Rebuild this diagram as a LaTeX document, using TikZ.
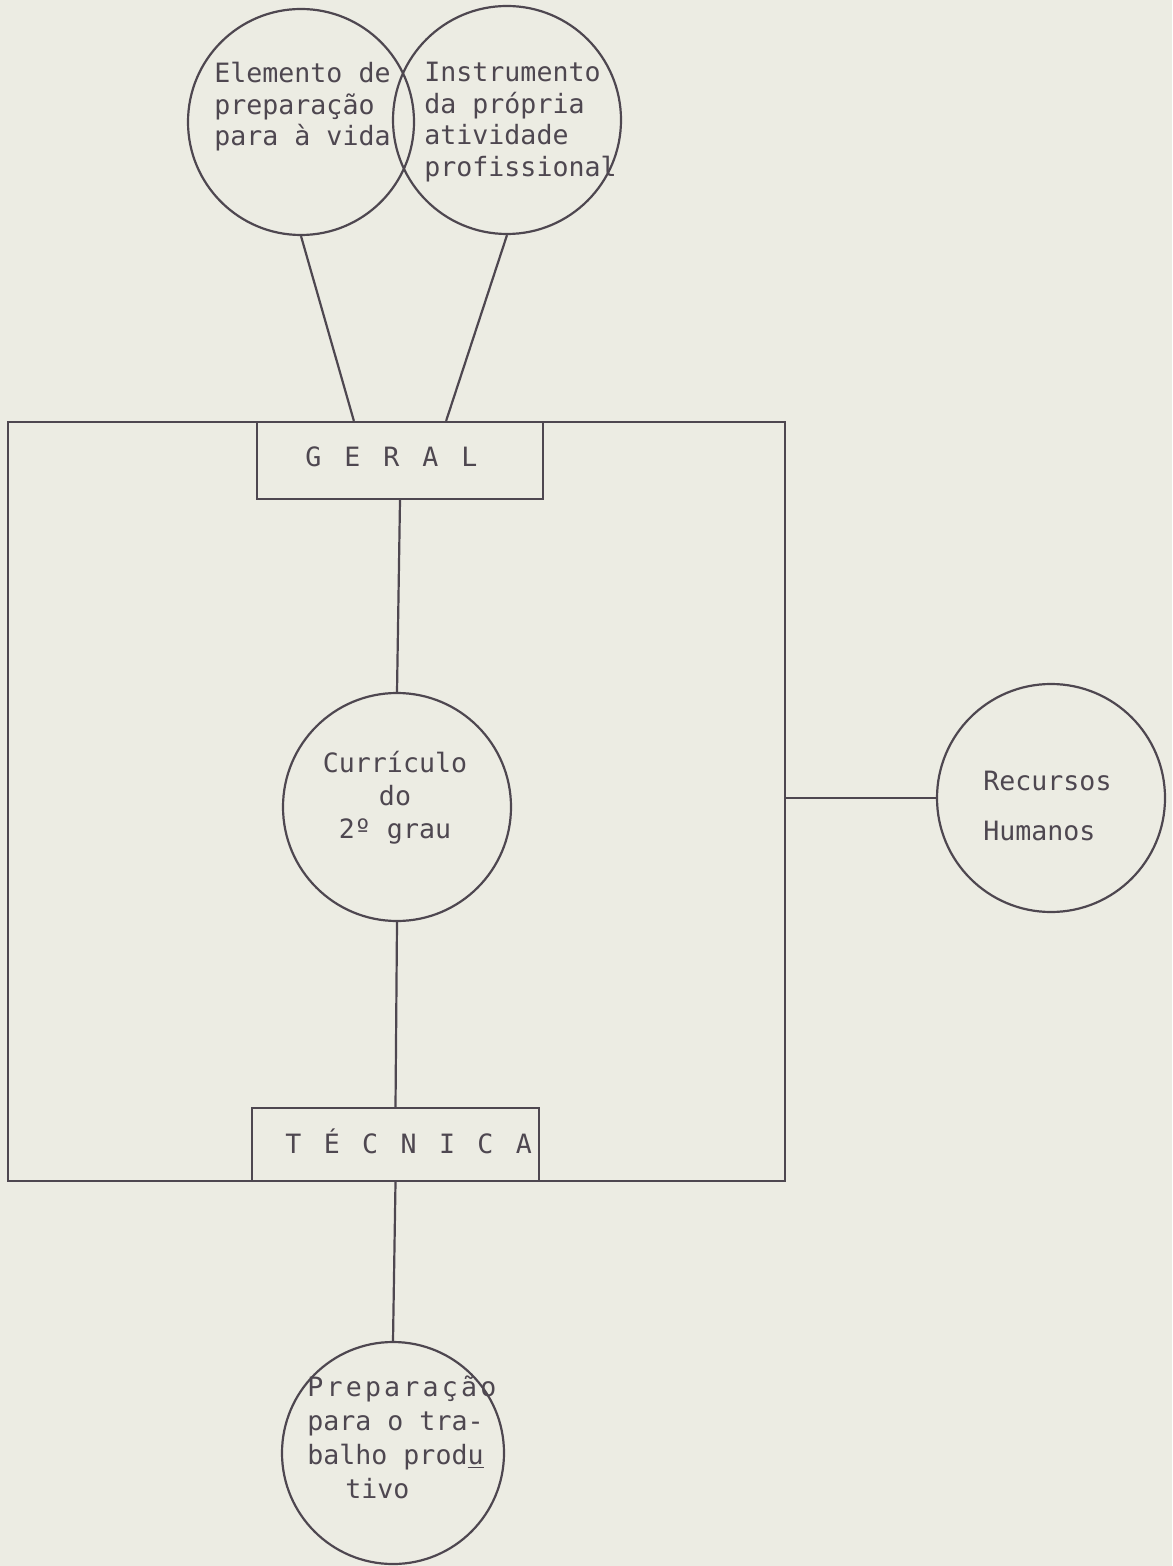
\documentclass[tikz,border=0pt]{standalone}
\usepackage{fontspec}
\usetikzlibrary{calc}
\setmonofont{DejaVu Sans Mono}
\definecolor{paper}{RGB}{236,236,227}
\definecolor{ink}{RGB}{78,71,80}
\newcommand\tw{\ttfamily\fontsize{13.3}{15.75}\selectfont}
\tikzset{
  lineink/.style={draw=ink, line width=1.1pt},
  bubble/.style={circle, lineink, inner sep=0pt},
  boxnode/.style={rectangle, lineink, inner sep=0pt},
  label/.style={inner sep=0pt, text=ink, font=\tw},
  link/.style={lineink}
}
\begin{document}
\begin{tikzpicture}[x=0.5pt, y=-0.5pt]
\fill[paper] (0,0) rectangle (1172,1566);
\useasboundingbox (0,0) rectangle (1172,1566);

% frame and boxes
\node[boxnode, minimum width=388.5pt, minimum height=379.5pt] (frame) at (396.5,801.5) {};
\node[boxnode, fill=paper, minimum width=143pt, minimum height=38.5pt] (geral) at (400,460.5) {};
\node[boxnode, fill=paper, minimum width=143.5pt, minimum height=36.5pt] (tec) at (395.5,1144.5) {};

% circles
\node[bubble, minimum size=113pt] (c1) at (301,122) {};
\node[bubble, minimum size=114pt] (c2) at (507,120) {};
\node[bubble, minimum size=114pt] (cur) at (397,807) {};
\node[bubble, minimum size=114pt] (rec) at (1051,798) {};
\node[bubble, minimum size=111pt] (prep) at (393,1453) {};

% texts
\node[label, anchor=north west, align=left] (t1) at (214,62)
  {Elemento de\\preparação\\para à vida};
\node[label, anchor=north west, align=left] (t2) at (424,62)
  {Instrumento\\da própria\\atividade\\profissional};
\node[label, anchor=base west] (tg) at (305,467)
  {G\hspace{11.5pt}E\hspace{11.5pt}R\hspace{11.5pt}A\hspace{11.5pt}L};
\node[label, anchor=north, align=center, font=\tw\fontsize{13.3}{16.5}\selectfont] (tc) at (395,751)
  {Currículo\\do\\2º grau};
\node[label, anchor=north west, align=left, font=\tw\fontsize{13.3}{25}\selectfont] (tr) at (983,771)
  {Recursos\\Humanos};
\node[label, anchor=base west] (tt) at (285,1153)
  {T\hspace{11.2pt}É\hspace{11.2pt}C\hspace{11.2pt}N\hspace{11.2pt}I\hspace{11.2pt}C\hspace{11.2pt}A};
\node[label, anchor=north west, align=left, font=\tw\fontsize{13.3}{17}\selectfont] (tp) at (307,1375)
  {{\addfontfeature{LetterSpace=12}Preparação}\\para o tra-\\balho prod\underline{u}\\\hspace*{19pt}tivo};

% connectors
\coordinate (g1) at ($(geral.north west)!0.34!(geral.north east)$);
\coordinate (g2) at ($(geral.north west)!0.66!(geral.north east)$);
\draw[link] (c1.south) -- (g1);
\draw[link] (c2.south) -- (g2);
\draw[link] (geral.south) -- (cur.north);
\draw[link] (cur.south) -- (tec.north);
\draw[link] (tec.south) -- (prep.north);
\draw[link] (rec.west -| frame.east) -- (rec.west);
\end{tikzpicture}
\end{document}
